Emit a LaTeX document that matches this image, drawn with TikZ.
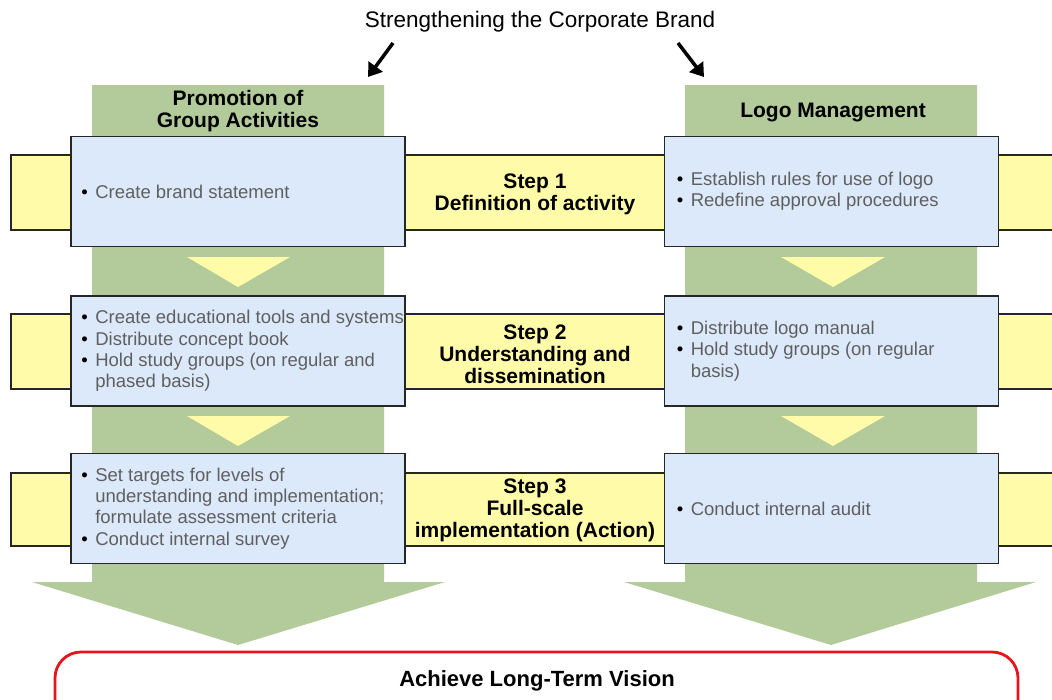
\documentclass[tikz,border=0pt]{standalone}
\usepackage{fontspec}
\setmainfont{Liberation Sans}
\usepackage{tikz}
\usetikzlibrary{positioning,arrows.meta}
\definecolor{leaf}{RGB}{179,202,154}
\definecolor{band}{RGB}{255,251,168}
\definecolor{pale}{RGB}{220,233,251}
\definecolor{vision}{RGB}{232,20,28}
\definecolor{ink}{RGB}{95,95,95}
\newcommand{\itembul}{\makebox[14pt][l]{\textcolor{black}{•}}}
\newcommand{\itemcont}{\hspace*{14pt}}

\begin{document}
\begin{tikzpicture}[x=1pt, y=-1pt,
	column/.style={fill=leaf, draw=none},
	flow/.style={fill=band, draw=none},
	stepband/.style={fill=band, draw=black!85, line width=1.4pt},
	actionbox/.style={fill=pale, draw=black!85, line width=1.8pt, minimum width=334pt, minimum height=110pt, inner sep=0pt},
	items/.style={text=ink, font=\fontsize{18.5}{21.3}\selectfont, align=left, inner sep=0pt},
	steplabel/.style={font=\bfseries\fontsize{21}{21.8}\selectfont, align=center},
	header/.style={font=\bfseries\fontsize{21}{22}\selectfont, align=center},
	pointer/.style={-{Triangle[length=13pt,width=17pt]}, line width=3.5pt},
	goalline/.style={draw=vision, line width=2.8pt, rounded corners=26pt}]

	\useasboundingbox (0,0) rectangle (1052,699);
	\clip (0,0) rectangle (1052,699);

	\node[font=\fontsize{22.5}{24}\selectfont] (brand) at (540,22) {Strengthening the Corporate Brand};
	\coordinate (pL) at (393,43);
	\coordinate (tL) at (368,77);
	\coordinate (pR) at (678,43);
	\coordinate (tR) at (704,77);
	\draw[pointer] (pL) -- (tL);
	\draw[pointer] (pR) -- (tR);

	\fill[column] (92,85) -- (384,85) -- (384,582) -- (445,582) -- (238,645) -- (32,582) -- (92,582) -- cycle;
	\fill[column] (685,85) -- (977,85) -- (977,582) -- (1036,582) -- (831,645) -- (624,582) -- (685,582) -- cycle;
	\node[header] (hdrL) at (238,111) {Promotion of\\Group Activities};
	\node[header] (hdrR) at (833,112) {Logo Management};

	\fill[flow] (187,257) -- (290,257) -- (238,287) -- cycle;
	\fill[flow] (187,416) -- (290,416) -- (238,446) -- cycle;
	\fill[flow] (781,257) -- (885,257) -- (833,287) -- cycle;
	\fill[flow] (781,416) -- (885,416) -- (833,446) -- cycle;

	\draw[stepband] (11,155) rectangle (1070,230);
	\draw[stepband] (11,314) rectangle (1070,389);
	\draw[stepband] (11,473) rectangle (1070,546);

	\node[steplabel] (step1) at (535,194) {Step 1\\Definition of activity};
	\node[steplabel] (step2) at (535,354) {Step 2\\Understanding and\\dissemination};
	\node[steplabel] (step3) at (535,510.5) {Step 3\\Full-scale\\implementation (Action)};

	\node[actionbox] (boxL1) at (238,191.5) {};
	\node[actionbox] (boxL2) at (238,351) {};
	\node[actionbox] (boxL3) at (238,508.5) {};
	\node[actionbox] (boxR1) at (831.5,191.5) {};
	\node[actionbox] (boxR2) at (831.5,351) {};
	\node[actionbox] (boxR3) at (831.5,508.5) {};

	\node[items, right=11pt of boxL1.west] (itL1) {\itembul Create brand statement};
	\node[items, right=11pt of boxL2.west] (itL2) {\itembul Create educational tools and systems\\\itembul Distribute concept book\\\itembul Hold study groups (on regular and\\\itemcont phased basis)};
	\node[items, right=11pt of boxL3.west] (itL3) {\itembul Set targets for levels of\\\itemcont understanding and implementation;\\\itemcont formulate assessment criteria\\\itembul Conduct internal survey};
	\node[items, right=13pt of boxR1.west] (itR1) {\itembul Establish rules for use of logo\\\itembul Redefine approval procedures};
	\node[items, right=13pt of boxR2.west] (itR2) {\itembul Distribute logo manual\\\itembul Hold study groups (on regular\\\itemcont basis)};
	\node[items, right=13pt of boxR3.west] (itR3) {\itembul Conduct internal audit};

	\draw[goalline] (55,652) rectangle (1018,740);
	\node[font=\bfseries\fontsize{22}{24}\selectfont] (goal) at (537,681) {Achieve Long-Term Vision};
\end{tikzpicture}
\end{document}
